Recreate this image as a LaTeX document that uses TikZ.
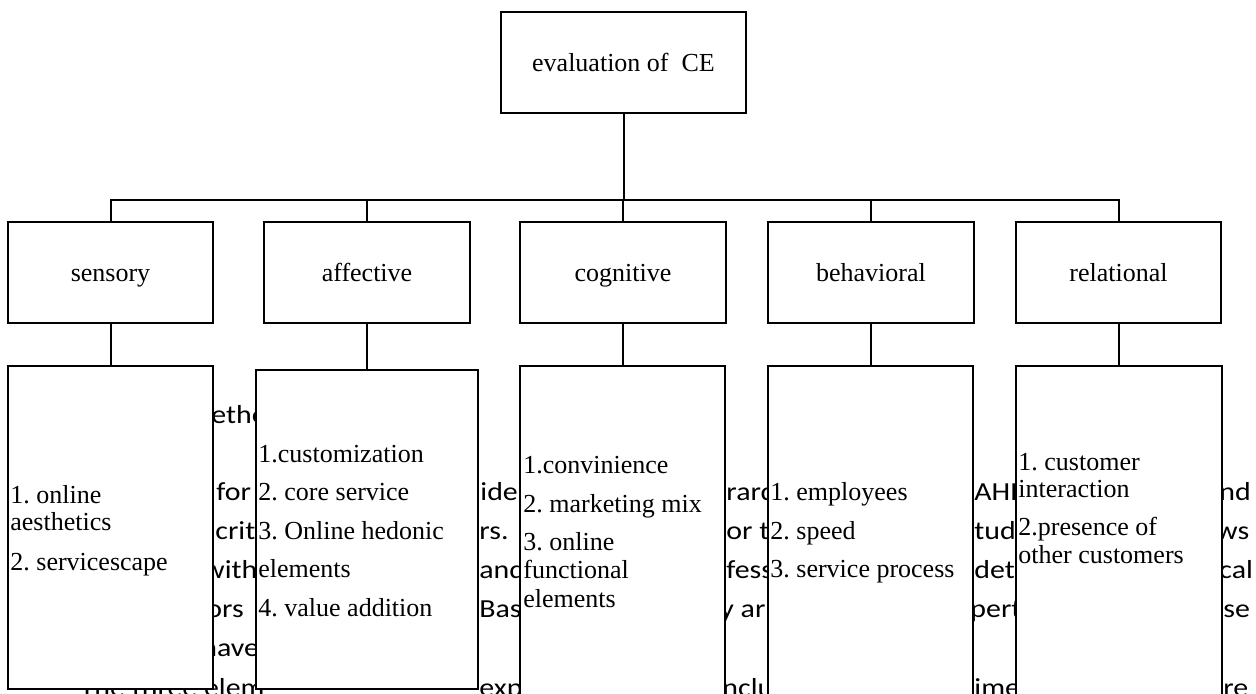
\documentclass[tikz,border=0pt]{standalone}
\usepackage{fontspec}
\setmainfont{Liberation Serif}
\newfontfamily\bgfont[FakeStretch=1.15]{Carlito}
\frenchspacing
\begin{document}
\begin{tikzpicture}[x=0.5pt,y=-0.5pt,
  box/.style={draw, line width=1pt, fill=white, inner sep=0pt, text height=10.75pt, text depth=2pt, font=\fontsize{13}{15}\selectfont},
  bg/.style={anchor=base west, inner sep=0pt, font=\bgfont\fontsize{13}{15}\selectfont},
  items/.style={anchor=base west, inner sep=0pt, font=\fontsize{13}{13.5}\selectfont},
  link/.style={line width=1pt}]
\useasboundingbox (0,0) rectangle (1256,693);
\clip (0,0) rectangle (1256,693);

% background text fragments (partly hidden by the boxes)
\node[bg] (g1) at (211,423) {etho};
\node[bg] (g2) at (216,500) {for};
\node[bg] (g3) at (215,539) {crit};
\node[bg] (g4) at (203,578) {with};
\node[bg] (g5) at (206,617) {ors};
\node[bg] (g6) at (201,656) {have};
\node[bg, anchor=base east] (g7) at (265,696) {The three elem};
\node[bg] (g8) at (480,500) {iden};
\node[bg] (g9) at (479,539) {rs.};
\node[bg] (g10) at (479,578) {and};
\node[bg] (g11) at (479,617) {Bas};
\node[bg] (g12) at (479,696) {expe};
\node[bg] (g13) at (726,500) {rard};
\node[bg] (g14) at (726,539) {or t};
\node[bg] (g15) at (726,578) {fess};
\node[bg] (g16) at (720,617) {y ar};
\node[bg] (g17) at (722,696) {nclu};
\node[bg] (g18) at (974,500) {AHP};
\node[bg] (g19) at (974,539) {tud};
\node[bg] (g20) at (974,578) {dete};
\node[bg] (g21) at (970,617) {pert};
\node[bg] (g22) at (974,696) {ime};
\node[bg] (g23) at (1219,500) {nd};
\node[bg] (g24) at (1216,539) {ws};
\node[bg] (g25) at (1219,578) {cal};
\node[bg] (g26) at (1223,617) {se};
\node[bg] (g27) at (1223,696) {re};

% top box
\node[box, minimum width=122.5pt, minimum height=50.5pt] (top) at (623.5,62.5) {evaluation of\ \ CE};

% second tier
\node[box, minimum width=102.5pt, minimum height=50.5pt] (s2) at (110.5,272.5) {sensory};
\node[box, minimum width=103pt, minimum height=50.5pt] (a2) at (367,272.5) {affective};
\node[box, minimum width=103pt, minimum height=50.5pt] (c2) at (623,272.5) {cognitive};
\node[box, minimum width=103pt, minimum height=50.5pt] (b2) at (871,272.5) {behavioral};
\node[box, minimum width=102.5pt, minimum height=50.5pt] (r2) at (1118.5,272.5) {relational};

% third tier boxes
\node[box, minimum width=102.5pt, minimum height=161.5pt] (s3) at (110.5,527.5) {};
\node[box, minimum width=111pt, minimum height=159.5pt] (a3) at (367,529.5) {};
\node[box, minimum width=102.5pt, minimum height=187pt] (c3) at (622.5,553) {};
\node[box, minimum width=102.5pt, minimum height=187pt] (b3) at (870.5,553) {};
\node[box, minimum width=103pt, minimum height=187pt] (r3) at (1119,553) {};

% third tier texts
\node[items] (s3t) at (10,503) {\begin{tabular}[t]{@{}l@{}}1. online\\ aesthetics\\[6.5pt] 2. servicescape\end{tabular}};
\node[items] (a3t) at (258,462) {\begin{tabular}[t]{@{}l@{}}1.customization\\[5.75pt] 2. core service\\[5.75pt] 3. Online hedonic\\[5.75pt] elements\\[5.75pt] 4. value addition\end{tabular}};
\node[items] (c3t) at (523,473) {\begin{tabular}[t]{@{}l@{}}1.convinience\\[6pt] 2. marketing mix\\[5.5pt] 3. online\\[0.5pt] functional\\[1pt] elements\end{tabular}};
\node[items] (b3t) at (770,500) {\begin{tabular}[t]{@{}l@{}}1. employees\\[6pt] 2. speed\\[5.5pt] 3. service process\end{tabular}};
\node[items] (r3t) at (1018,470) {\begin{tabular}[t]{@{}l@{}}1. customer\\ interaction\\[5.5pt] 2.presence of\\[0.5pt] other customers\end{tabular}};

% connectors
\coordinate (bus) at (623,200);
\draw[link] (top.south) -- (top.south |- bus);
\draw[link] (s2.north) -- (s2.north |- bus) -- (r2.north |- bus) -- (r2.north);
\foreach \n in {a2,c2,b2} \draw[link] (\n.north) -- (\n.north |- bus);
\foreach \u/\l in {s2/s3,a2/a3,c2/c3,b2/b3,r2/r3} \draw[link] (\u.south) -- (\u.south |- \l.north);
\end{tikzpicture}
\end{document}
